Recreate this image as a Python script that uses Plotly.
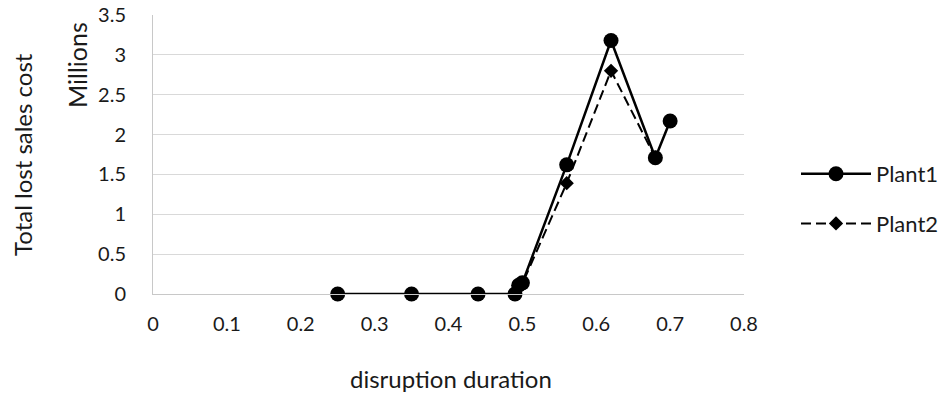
import plotly.graph_objects as go

# Disruption duration vs. total lost sales cost (in millions)
plant1_x = [0.25, 0.35, 0.44, 0.49, 0.495, 0.50, 0.56, 0.62, 0.68, 0.70]
plant1_y = [0.0, 0.0, 0.0, 0.0, 0.11, 0.14, 1.62, 3.18, 1.71, 2.17]

plant2_x = [0.25, 0.35, 0.44, 0.49, 0.495, 0.50, 0.56, 0.62, 0.68]
plant2_y = [0.0, 0.0, 0.0, 0.0, 0.10, 0.13, 1.39, 2.80, 1.71]

x_ticks = [0, 0.1, 0.2, 0.3, 0.4, 0.5, 0.6, 0.7, 0.8]
y_ticks = [0, 0.5, 1, 1.5, 2, 2.5, 3, 3.5]

FONT = "Lato"
TEXT = "#1a1a1a"
FW, FH = 941, 396

# plot area in pixels
L, R, T, B = 153, 744, 15, 294

fig = go.Figure()
fig.add_trace(go.Scatter(
    x=plant1_x, y=plant1_y, name="Plant1", legendgroup="p1",
    mode="lines+markers", cliponaxis=False,
    line=dict(color="black", width=2.5),
    marker=dict(symbol="circle", size=15, color="black"),
))
fig.add_trace(go.Scatter(
    x=plant2_x, y=plant2_y, name="Plant2", legendgroup="p2",
    mode="lines+markers", cliponaxis=False,
    line=dict(color="black", width=2, dash="10px,5px"),
    marker=dict(symbol="diamond", size=11, color="black"),
))

fig.update_layout(
    width=FW, height=FH,
    margin=dict(l=L, r=FW - R, t=T, b=FH - B, autoexpand=False),
    plot_bgcolor="white", paper_bgcolor="white",
    font=dict(family=FONT, size=20, color=TEXT),
    legend=dict(
        xref="container", yref="container",
        x=796 / FW, xanchor="left", y=1 - 199 / FH, yanchor="middle",
        font=dict(size=22), itemwidth=70, tracegroupgap=18,
        bgcolor="rgba(0,0,0,0)",
    ),
    xaxis=dict(
        range=[0, 0.8], tickvals=x_ticks, ticktext=[f"{v:g}" for v in x_ticks],
        showgrid=False, showline=True, linecolor="#c8c8c8", linewidth=1,
        zeroline=False, ticks="", ticklabelstandoff=12,
    ),
    yaxis=dict(
        range=[0, 3.5], tickvals=y_ticks, ticktext=[f"{v:g}" for v in y_ticks],
        showgrid=True, gridcolor="#d9d9d9", gridwidth=1,
        showline=True, linecolor="#c8c8c8", linewidth=1,
        zeroline=False, ticks="", ticklabelstandoff=22,
    ),
    showlegend=True,
)

# axis titles placed in page pixels
fig.add_annotation(
    text="disruption duration", xref="paper", yref="paper",
    x=(451 - L) / (R - L), y=(B - 379) / (B - T),
    showarrow=False, font=dict(size=24), xanchor="center", yanchor="middle",
)
fig.add_annotation(
    text="Total lost sales cost", xref="paper", yref="paper",
    x=(22 - L) / (R - L), y=(B - 155) / (B - T), textangle=-90,
    showarrow=False, font=dict(size=24), xanchor="center", yanchor="middle",
)
fig.add_annotation(
    text="Millions", xref="paper", yref="paper",
    x=(77 - L) / (R - L), y=(B - 65) / (B - T), textangle=-90,
    showarrow=False, font=dict(size=25), xanchor="center", yanchor="middle",
)

fig.write_html("out.html")
